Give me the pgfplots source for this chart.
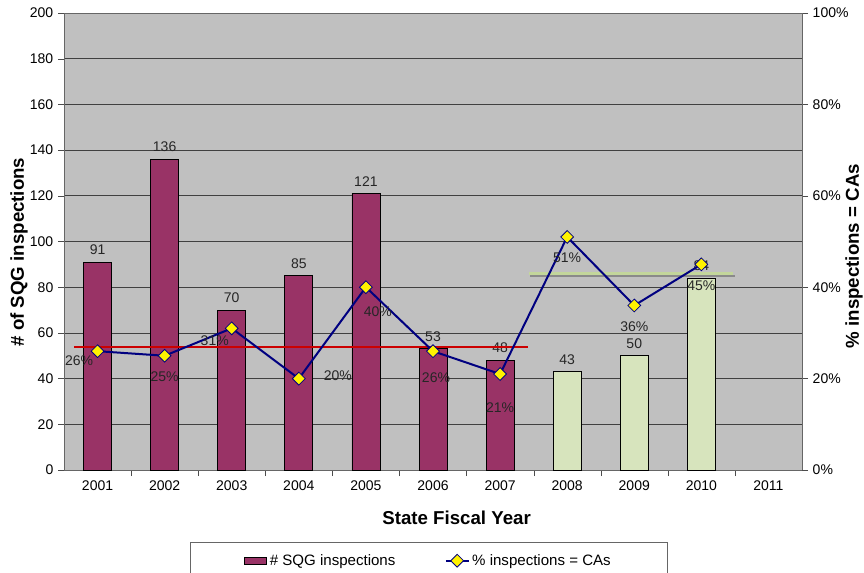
\documentclass[border=0pt]{standalone}
\usepackage{pgfplots}
\pgfplotsset{compat=1.18}
\usepackage{pgfplotstable}
\usepackage{fontspec}
\setmainfont{Liberation Sans}
\pgfplotsset{/pgf/number format/assume math mode=true}
\definecolor{barpurple}{HTML}{993366}
\definecolor{bargreen}{HTML}{D7E4BD}
\definecolor{bggray}{HTML}{C0C0C0}
\definecolor{linenavy}{HTML}{000080}
\definecolor{avgred}{HTML}{CC0000}
\definecolor{avggreen}{HTML}{C3D69B}

\pgfplotstableread{
x y
0 91
1 136
2 70
3 85
4 121
5 53
6 48
}\barsA
\pgfplotstableread{
x y
7 43
8 50
9 84
}\barsB
\pgfplotstableread{
x y dx dy
0 26 -13.9 -6.75
1 25 0 -15.75
2 31 -12.75 -9
3 20 29.25 2.25
4 40 9 -18
5 26 2.25 -19.5
6 21 0 -25.5
7 51 0 -15.75
8 36 0 -15.75
9 45 0 -15.75
}\pcts

\begin{document}
\begin{tikzpicture}
\path[use as bounding box] (-48pt,-76.5pt) rectangle (600pt,352.5pt);
\begin{axis}[
  scale only axis, width=553.5pt, height=342.75pt,
  xmin=-0.5, xmax=10.5, ymin=0, ymax=200,
  ytick={0,20,...,200},
  xtick={0,...,10},
  xticklabels={2001,2002,2003,2004,2005,2006,2007,2008,2009,2010,2011},
  minor xtick={0.5,1.5,...,9.5},
  tick pos=left,
  axis background/.style={fill=bggray},
  ymajorgrids, grid style={black!75, line width=0.5pt},
  tick align=outside, major tick length=4.5pt, minor tick length=4.5pt,
  major x tick style={draw=none},
  axis line style={black!60},
  tick style={black!70},
  ticklabel style={font=\fontsize{10.5}{12}\selectfont},
  xlabel={State Fiscal Year},
  xlabel style={at={(axis description cs:0.532,-0.105)}, anchor=center, font=\fontsize{14}{16}\selectfont\bfseries},
  ylabel={\# of SQG inspections},
  ylabel style={at={(axis description cs:-0.061,0.477)}, anchor=center, font=\fontsize{14}{16}\selectfont\bfseries},
  ybar, bar width=21pt, bar shift=0pt,
  nodes near coords,
  every node near coord/.append style={font=\fontsize{10.5}{12}\selectfont, black!85, yshift=2pt},
]
\addplot[fill=barpurple, draw=black, line width=0.6pt] table[x=x,y=y]{\barsA};
\addplot[fill=bargreen, draw=black, line width=0.6pt] table[x=x,y=y]{\barsB};
\end{axis}
\begin{axis}[
  scale only axis, width=553.5pt, height=342.75pt,
  xmin=-0.5, xmax=10.5, ymin=0, ymax=100,
  axis x line=none, axis y line*=right,
  ytick={0,20,...,100},
  yticklabel={\pgfmathprintnumber{\tick}\%},
  tick align=outside, major tick length=4.5pt,
  axis line style={black!60},
  tick style={black!70},
  ticklabel style={font=\fontsize{10.5}{12}\selectfont},
  ylabel={\% inspections = CAs},
  ylabel style={at={(axis description cs:1.0705,0.468)}, anchor=center, font=\fontsize{14}{16}\selectfont\bfseries},
  legend style={at={(axis description cs:0.1707,-0.1575)}, anchor=north west,
    draw=black!60, fill=white, inner xsep=40pt, inner ysep=7pt,
    font=\fontsize{11.3}{13}\selectfont,
    /tikz/every even column/.append style={column sep=35pt}},
  legend columns=2, legend cell align=left,
]
\addlegendimage{area legend, fill=barpurple, draw=black, line width=0.6pt}
\addlegendentry{\# SQG inspections}
\addplot[avgred, line width=1.5pt, forget plot] coordinates {(-0.35,27) (6.42,27)};
\addplot[black!60, opacity=0.6, line width=1.5pt, forget plot] coordinates {(6.45,42.5) (9.5,42.5)};
\addplot[avggreen, line width=1.8pt, forget plot] coordinates {(6.43,43) (9.47,43)};
\addplot[linenavy, line width=1.5pt, mark=square*, mark size=3.4pt,
  mark options={rotate=45, fill=yellow, draw=linenavy, line width=0.6pt},
  visualization depends on={\thisrow{dx} \as \dxv},
  visualization depends on={\thisrow{dy} \as \dyv},
  nodes near coords={\pgfmathprintnumber{\pgfplotspointmeta}\%},
  every node near coord/.append style={anchor=center, xshift=\dxv pt, yshift=\dyv pt, font=\fontsize{10.5}{12}\selectfont, text=black!85},
] table[x=x,y=y]{\pcts};
\addlegendentry{\% inspections = CAs}
\end{axis}
\end{tikzpicture}
\end{document}
